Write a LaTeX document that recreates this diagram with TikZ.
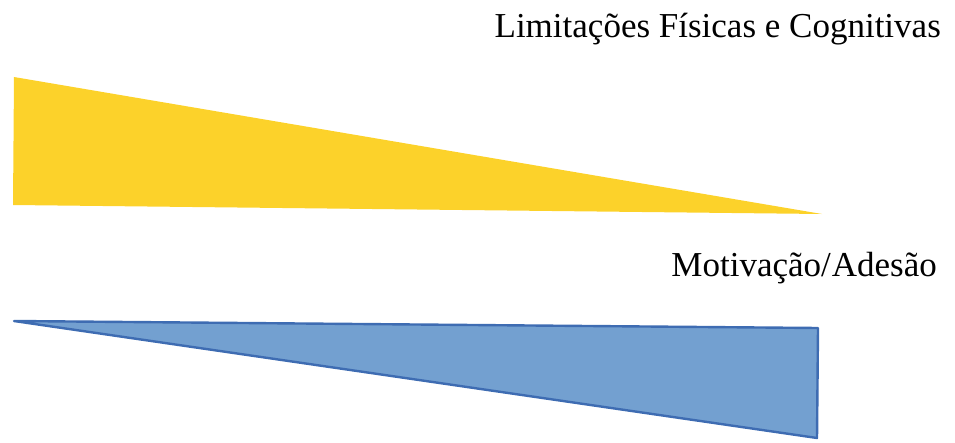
\documentclass[tikz,border=0pt]{standalone}
\usepackage{fontspec}
\setmainfont{Liberation Serif}
\usetikzlibrary{positioning}
\definecolor{wedgeyellow}{RGB}{252,210,42}
\definecolor{wedgeblue}{RGB}{115,160,208}
\definecolor{wedgeline}{RGB}{62,108,178}
\tikzstyle{heading} = [anchor=base east, inner sep=0pt,
                 font=\fontsize{35}{40}\selectfont]
\tikzset{
	falling/.style={fill=wedgeyellow, draw=none},
	rising/.style={fill=wedgeblue, draw=wedgeline, line width=2.4pt, line join=round},
}

\begin{document}
\begin{tikzpicture}[x=1pt, y=-1pt]

\useasboundingbox (0,0) rectangle (955,442);

% upper wedge
\coordinate (lim top) at (14,77);
\coordinate (lim bottom) at (13,205);
\coordinate (lim tip) at (822,214);
\node [heading] at (941,37) (lim) {Limitações Físicas e Cognitivas};
\path [falling] (lim top) -- (lim tip) -- (lim bottom) -- cycle;

% lower wedge
\coordinate (mot tip) at (14,321);
\coordinate (mot top) at (818,328);
\coordinate (mot bottom) at (817,438);
\node [heading] at (937,276) (mot) {Motivação/\kern1pt Adesão};
\path [rising] (mot tip) -- (mot top) -- (mot bottom) -- cycle;

\end{tikzpicture}
\end{document}
